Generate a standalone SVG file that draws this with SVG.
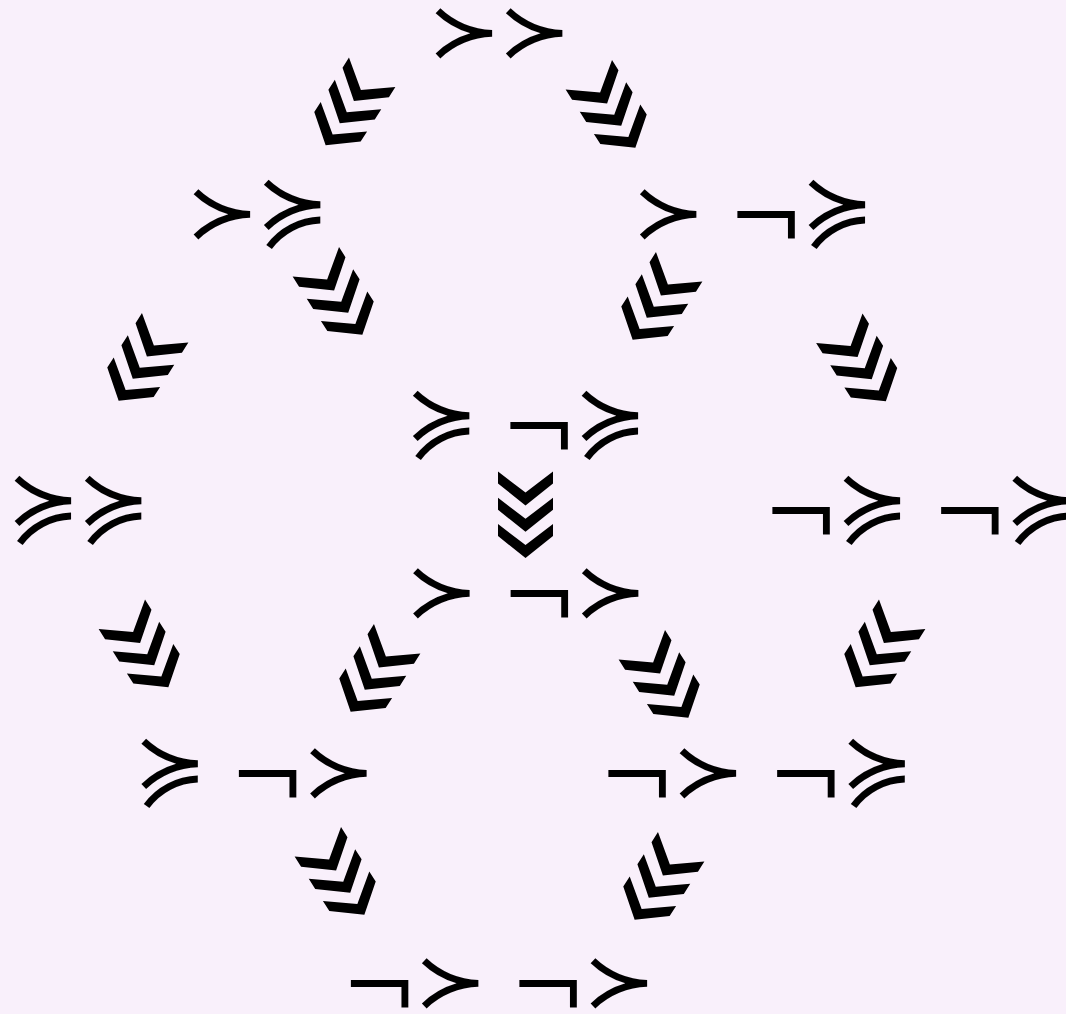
<svg xmlns="http://www.w3.org/2000/svg" xmlns:xlink="http://www.w3.org/1999/xlink" width="1066" height="1014" viewBox="0 0 1066 1014">
<style>
.lbl{font-family:"DejaVu Math TeX Gyre","DejaVu Sans",sans-serif;font-size:86px;fill:#000;text-anchor:middle}
.arr{fill:#000}
</style>
<defs>
<g id="chev3">
<polygon points="-27.5,-43.5 0,-22.5 27.5,-43.5 27.5,-31.5 0,-9.5 -27.5,-31.5"/>
<polygon points="-27.5,-17.2 0,3.8 27.5,-17.2 27.5,-5.2 0,16.8 -27.5,-5.2"/>
<polygon points="-27.5,9.1 0,30.1 27.5,9.1 27.5,21.1 0,43.1 -27.5,21.1"/>
</g>
</defs>
<rect width="1066" height="1014" fill="#f9f0fb"/>
<g id="connectors" class="arr">
<use xlink:href="#chev3" transform="translate(348.8,109) rotate(32.5)"/>
<use xlink:href="#chev3" transform="translate(612.2,111.5) rotate(-32.5)"/>
<use xlink:href="#chev3" transform="translate(141.8,364.5) rotate(32.5)"/>
<use xlink:href="#chev3" transform="translate(339.2,298.5) rotate(-32.5)"/>
<use xlink:href="#chev3" transform="translate(655.8,303.5) rotate(32.5)"/>
<use xlink:href="#chev3" transform="translate(862.7,365) rotate(-32.5)"/>
<use xlink:href="#chev3" transform="translate(525.5,515)"/>
<use xlink:href="#chev3" transform="translate(145.2,651) rotate(-32.5)"/>
<use xlink:href="#chev3" transform="translate(373.8,675.5) rotate(32.5)"/>
<use xlink:href="#chev3" transform="translate(665.2,681.5) rotate(-32.5)"/>
<use xlink:href="#chev3" transform="translate(878.8,651) rotate(32.5)"/>
<use xlink:href="#chev3" transform="translate(341.2,878.5) rotate(-32.5)"/>
<use xlink:href="#chev3" transform="translate(657.8,883.5) rotate(32.5)"/>
</g>
<g id="n1"><text class="lbl" x="499" y="57">≻≻</text></g>
<g id="n2"><text class="lbl" x="257" y="238">≻≽</text></g>
<g id="n3"><text class="lbl" x="752.5" y="238">≻ ¬≽</text></g>
<g id="n4"><text class="lbl" x="525.5" y="448.5">≽ ¬≽</text></g>
<g id="n5"><text class="lbl" x="78" y="534">≽≽</text></g>
<g id="n6"><text class="lbl" x="920.7" y="534">¬≽ ¬≽</text></g>
<g id="n7"><text class="lbl" x="525.7" y="617">≻ ¬≻</text></g>
<g id="n8"><text class="lbl" x="254" y="797">≽ ¬≻</text></g>
<g id="n9"><text class="lbl" x="756.6" y="797">¬≻ ¬≽</text></g>
<g id="n10"><text class="lbl" x="499" y="1007">¬≻ ¬≻</text></g>
</svg>
